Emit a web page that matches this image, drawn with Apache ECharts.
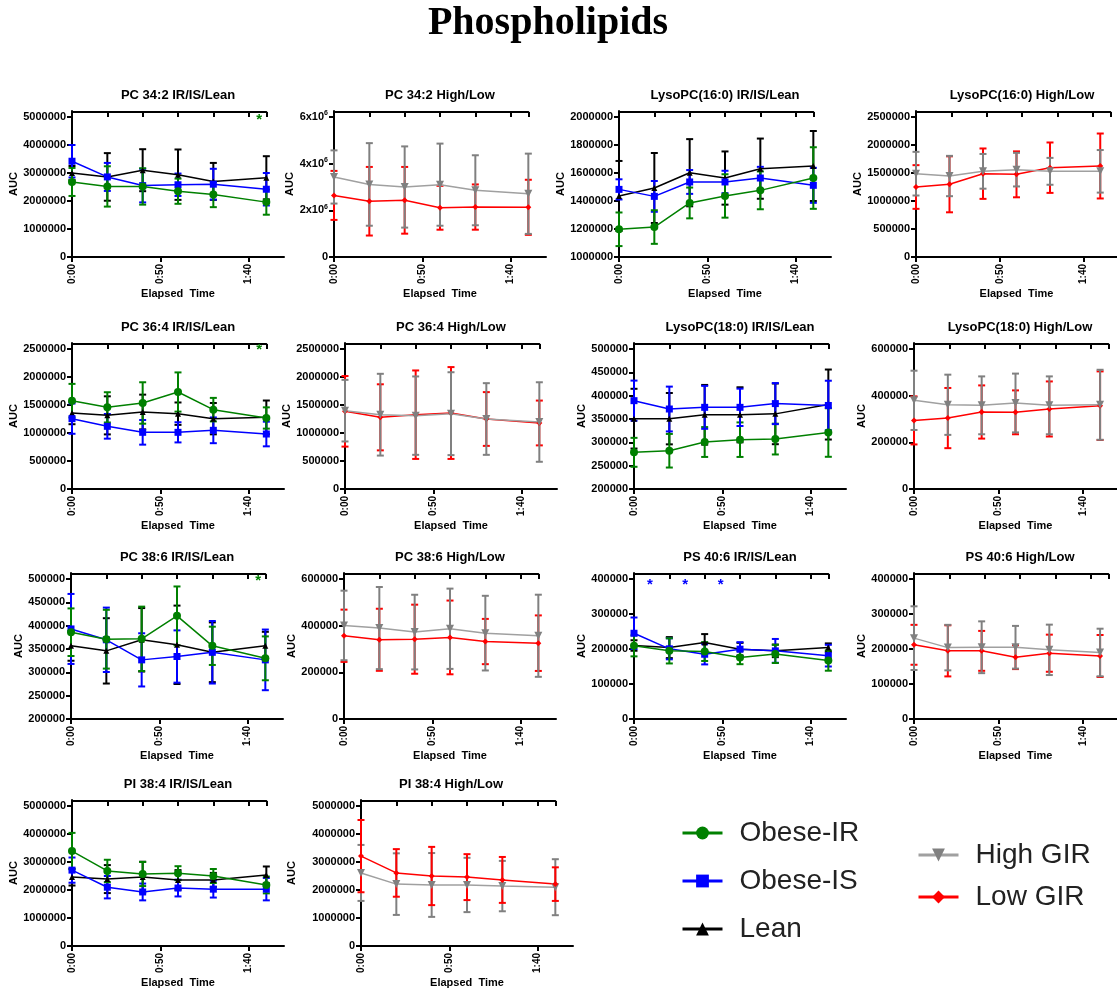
<!DOCTYPE html>
<html><head><meta charset="utf-8">
<script src="https://cdn.jsdelivr.net/npm/echarts@6/dist/echarts.min.js"></script>
<style>html,body{margin:0;padding:0;background:#fff}#c{width:1117px;height:994px}</style>
</head><body><div id="c"></div>
<script>
// ---------- DATA ----------
const times = [0, 20, 40, 60, 80, 110];
const xTickValues = [0, 50, 100];
const xTickLabels = ['0:00', '0:50', '1:40'];

// y tick sets
const ticks_0_5M = [0, 1000000, 2000000, 3000000, 4000000, 5000000];
const ticks_0_6M = [0, 2000000, 4000000, 6000000];
const ticks_1M_2M = [1000000, 1200000, 1400000, 1600000, 1800000, 2000000];
const ticks_0_2500k = [0, 500000, 1000000, 1500000, 2000000, 2500000];
const ticks_200k_500k = [200000, 250000, 300000, 350000, 400000, 450000, 500000];
const ticks_0_600k = [0, 200000, 400000, 600000];
const ticks_0_400k = [0, 100000, 200000, 300000, 400000];

// PC 34:2
const pc342_IR = [2680000, 2520000, 2520000, 2350000, 2230000, 1960000];
const pc342_IR_err = [500000, 720000, 650000, 450000, 450000, 450000];
const pc342_IS = [3420000, 2860000, 2550000, 2580000, 2600000, 2420000];
const pc342_IS_err = [580000, 500000, 600000, 400000, 550000, 580000];
const pc342_Lean = [3000000, 2860000, 3100000, 2940000, 2700000, 2830000];
const pc342_Lean_err = [250000, 850000, 750000, 900000, 660000, 770000];
const pc342_High = [3430000, 3110000, 3000000, 3100000, 2860000, 2710000];
const pc342_High_err = [1140000, 1770000, 1740000, 1760000, 1500000, 1720000];
const pc342_Low = [2640000, 2390000, 2430000, 2110000, 2140000, 2130000];
const pc342_Low_err = [1050000, 1470000, 1430000, 940000, 970000, 1180000];
const pc342_stars = [[106, 5020000]];

// LysoPC(16:0)
const lpc160_IR = [1198000, 1214000, 1386000, 1436000, 1476000, 1564000];
const lpc160_IR_err = [120000, 120000, 110000, 155000, 135000, 220000];
const lpc160_IS = [1483000, 1433000, 1536000, 1536000, 1564000, 1512000];
const lpc160_IS_err = [72000, 110000, 85000, 80000, 80000, 125000];
const lpc160_Lean = [1436000, 1493000, 1602000, 1564000, 1631000, 1650000];
const lpc160_Lean_err = [250000, 250000, 240000, 190000, 215000, 250000];
const lpc160_High = [1488000, 1446000, 1530000, 1560000, 1530000, 1530000];
const lpc160_High_err = [390000, 360000, 310000, 300000, 240000, 380000];
const lpc160_Low = [1250000, 1298000, 1488000, 1476000, 1595000, 1625000];
const lpc160_Low_err = [390000, 500000, 450000, 410000, 450000, 580000];

// PC 36:4
const pc364_IR = [1577000, 1458000, 1536000, 1732000, 1417000, 1268000];
const pc364_IR_err = [300000, 270000, 370000, 350000, 210000, 190000];
const pc364_IS = [1256000, 1119000, 1012000, 1012000, 1048000, 982000];
const pc364_IS_err = [270000, 220000, 220000, 180000, 230000, 220000];
const pc364_Lean = [1357000, 1315000, 1375000, 1345000, 1256000, 1280000];
const pc364_Lean_err = [200000, 340000, 310000, 200000, 280000, 300000];
const pc364_High = [1399000, 1327000, 1310000, 1345000, 1250000, 1196000];
const pc364_High_err = [550000, 730000, 700000, 740000, 640000, 710000];
const pc364_Low = [1387000, 1280000, 1327000, 1357000, 1250000, 1179000];
const pc364_Low_err = [630000, 590000, 790000, 820000, 480000, 400000];
const pc364_stars = [[106, 2530000]];

// LysoPC(18:0)
const lpc180_IR = [278600, 282000, 300700, 305700, 307000, 321000];
const lpc180_IR_err = [31000, 36000, 32000, 37000, 33000, 52000];
const lpc180_IS = [389300, 371400, 375000, 375000, 383000, 379000];
const lpc180_IS_err = [43000, 48000, 46000, 40000, 44000, 53000];
const lpc180_Lean = [350700, 350700, 359000, 359000, 361000, 381000];
const lpc180_Lean_err = [64000, 55000, 64000, 59000, 65000, 75000];
const lpc180_High = [380000, 361000, 358600, 368600, 358600, 361000];
const lpc180_High_err = [127000, 129000, 124000, 126000, 124000, 150000];
const lpc180_Low = [294000, 304000, 330000, 328600, 343000, 357000];
const lpc180_Low_err = [103000, 129000, 114000, 94000, 118000, 147000];

// PC 38:6
const pc386_IR = [386000, 371000, 371800, 421000, 356800, 330000];
const pc386_IR_err = [51000, 63000, 69000, 63000, 41000, 47000];
const pc386_IS = [393000, 369700, 326700, 333900, 343000, 326700];
const pc386_IS_err = [75000, 69000, 57000, 56000, 67000, 65000];
const pc386_Lean = [356800, 346000, 369700, 359000, 343000, 356800];
const pc386_Lean_err = [32000, 70000, 68000, 84000, 64000, 30000];
const pc386_High = [401000, 389700, 372500, 386800, 368000, 356700];
const pc386_High_err = [149000, 176000, 160000, 172000, 160000, 176000];
const pc386_Low = [356700, 339500, 342000, 349600, 332000, 325000];
const pc386_Low_err = [112000, 133000, 148000, 158000, 97000, 119000];
const pc386_stars = [[106, 503000]];

// PS 40:6
const ps406_IR = [209000, 194700, 192800, 175600, 186000, 167000];
const ps406_IR_err = [30000, 36000, 27000, 19000, 26000, 29000];
const ps406_IS = [245000, 200500, 185000, 199500, 194700, 181000];
const ps406_IS_err = [45000, 30000, 29000, 20000, 34000, 31000];
const ps406_Lean = [210000, 204000, 218600, 199500, 194700, 204000];
const ps406_Lean_err = [15000, 30000, 24000, 18000, 18000, 12000];
const ps406_High = [231000, 204000, 205000, 205000, 197600, 190000];
const ps406_High_err = [91000, 65000, 74000, 61000, 72000, 68000];
const ps406_Low = [212000, 194700, 194700, 176600, 188000, 180000];
const ps406_Low_err = [57000, 73000, 57000, 34000, 53000, 60000];
const ps406_stars = [[9, 392000], [29, 392000], [49, 392000]];

// PI 38:4
const pi384_IR = [3390000, 2680000, 2570000, 2600000, 2500000, 2180000];
const pi384_IR_err = [650000, 400000, 430000, 250000, 250000, 300000];
const pi384_IS = [2710000, 2100000, 1930000, 2070000, 2030000, 2030000];
const pi384_IS_err = [450000, 400000, 300000, 300000, 300000, 400000];
const pi384_Lean = [2460000, 2390000, 2460000, 2360000, 2360000, 2540000];
const pi384_Lean_err = [300000, 500000, 550000, 350000, 250000, 300000];
const pi384_High = [2610000, 2210000, 2180000, 2180000, 2140000, 2100000];
const pi384_High_err = [1000000, 1100000, 1140000, 970000, 900000, 1000000];
const pi384_Low = [3210000, 2610000, 2500000, 2460000, 2360000, 2210000];
const pi384_Low_err = [1290000, 850000, 1040000, 820000, 820000, 600000];

// ---------- PANELS ----------
const panels = [
  {title: 'PC 34:2 IR/IS/Lean', ticks: ticks_0_5M, groups: [['Lean', pc342_Lean, pc342_Lean_err], ['Obese-IS', pc342_IS, pc342_IS_err], ['Obese-IR', pc342_IR, pc342_IR_err]], stars: pc342_stars, starColor: '#008000'},
  {title: 'PC 34:2 High/Low', ticks: ticks_0_6M, sci: true, groups: [['Low GIR', pc342_Low, pc342_Low_err], ['High GIR', pc342_High, pc342_High_err]]},
  {title: 'LysoPC(16:0) IR/IS/Lean', ticks: ticks_1M_2M, groups: [['Lean', lpc160_Lean, lpc160_Lean_err], ['Obese-IS', lpc160_IS, lpc160_IS_err], ['Obese-IR', lpc160_IR, lpc160_IR_err]]},
  {title: 'LysoPC(16:0) High/Low', ticks: ticks_0_2500k, groups: [['Low GIR', lpc160_Low, lpc160_Low_err], ['High GIR', lpc160_High, lpc160_High_err]]},
  {title: 'PC 36:4 IR/IS/Lean', ticks: ticks_0_2500k, groups: [['Lean', pc364_Lean, pc364_Lean_err], ['Obese-IS', pc364_IS, pc364_IS_err], ['Obese-IR', pc364_IR, pc364_IR_err]], stars: pc364_stars, starColor: '#008000'},
  {title: 'PC 36:4 High/Low', ticks: ticks_0_2500k, groups: [['Low GIR', pc364_Low, pc364_Low_err], ['High GIR', pc364_High, pc364_High_err]]},
  {title: 'LysoPC(18:0) IR/IS/Lean', ticks: ticks_200k_500k, groups: [['Lean', lpc180_Lean, lpc180_Lean_err], ['Obese-IR', lpc180_IR, lpc180_IR_err], ['Obese-IS', lpc180_IS, lpc180_IS_err]]},
  {title: 'LysoPC(18:0) High/Low', ticks: ticks_0_600k, groups: [['Low GIR', lpc180_Low, lpc180_Low_err], ['High GIR', lpc180_High, lpc180_High_err]]},
  {title: 'PC 38:6 IR/IS/Lean', ticks: ticks_200k_500k, groups: [['Lean', pc386_Lean, pc386_Lean_err], ['Obese-IS', pc386_IS, pc386_IS_err], ['Obese-IR', pc386_IR, pc386_IR_err]], stars: pc386_stars, starColor: '#008000'},
  {title: 'PC 38:6 High/Low', ticks: ticks_0_600k, groups: [['Low GIR', pc386_Low, pc386_Low_err], ['High GIR', pc386_High, pc386_High_err]]},
  {title: 'PS 40:6 IR/IS/Lean', ticks: ticks_0_400k, groups: [['Lean', ps406_Lean, ps406_Lean_err], ['Obese-IS', ps406_IS, ps406_IS_err], ['Obese-IR', ps406_IR, ps406_IR_err]], stars: ps406_stars, starColor: '#0000ff'},
  {title: 'PS 40:6 High/Low', ticks: ticks_0_400k, groups: [['Low GIR', ps406_Low, ps406_Low_err], ['High GIR', ps406_High, ps406_High_err]]},
  {title: 'PI 38:4 IR/IS/Lean', ticks: ticks_0_5M, groups: [['Lean', pi384_Lean, pi384_Lean_err], ['Obese-IS', pi384_IS, pi384_IS_err], ['Obese-IR', pi384_IR, pi384_IR_err]]},
  {title: 'PI 38:4 High/Low', ticks: ticks_0_5M, groups: [['High GIR', pi384_High, pi384_High_err], ['Low GIR', pi384_Low, pi384_Low_err]]}
];

// ---------- LAYOUT / STYLE ----------
const ROW_TICK_TOP = [117, 349, 579, 806];
const layout = [ // left, row, nameGap, titleX
  [72, 0, 50], [334, 0, 38], [619, 0, 46], [916, 0, 50],
  [72, 1, 50], [345, 1, 49], [634, 1, 44], [914, 1, 43],
  [71, 2, 44], [344, 2, 42], [634, 2, 44], [914, 2, 43],
  [72, 3, 49], [361, 3, 64, 451]
];
const styles = {
  'Obese-IR': {color: '#008000', line: '#008000', symbol: 'circle', size: 8},
  'Obese-IS': {color: '#0000ff', line: '#0000ff', symbol: 'rect', size: 7},
  'Lean': {color: '#000000', line: '#000000', symbol: 'triangle', size: 6},
  'High GIR': {color: '#808080', line: '#a0a0a0', symbol: 'path://M0,0L10,0L5,9Z', size: 8},
  'Low GIR': {color: '#ff0000', line: '#ff0000', symbol: 'diamond', size: 6}
};
const SANS = 'Liberation Sans, Arial, sans-serif';

function errRender(color) {
  return function (params, api) {
    const x = api.value(0), m = api.value(1), e = api.value(2);
    const hi = api.coord([x, m + e]), lo = api.coord([x, m - e]);
    const w = 3.5;
    const st = {stroke: color, lineWidth: 2};
    return {type: 'group', children: [
      {type: 'line', shape: {x1: hi[0], y1: hi[1], x2: lo[0], y2: lo[1]}, style: st},
      {type: 'line', shape: {x1: hi[0] - w, y1: hi[1], x2: hi[0] + w, y2: hi[1]}, style: st},
      {type: 'line', shape: {x1: lo[0] - w, y1: lo[1], x2: lo[0] + w, y2: lo[1]}, style: st}
    ]};
  };
}
function starRender(color) {
  return function (params, api) {
    const p = api.coord([api.value(0), api.value(1)]);
    return {type: 'text', style: {text: '*', x: p[0], y: p[1] + 3, textAlign: 'center', textVerticalAlign: 'middle',
      fill: color, font: 'bold 15px ' + SANS}};
  };
}

const legendText = {fontFamily: SANS, fontSize: 28, lineHeight: 28, color: '#222', padding: [0, 0, 0, 12]};
const option = {
  animation: false,
  backgroundColor: '#ffffff',
  title: [{text: 'Phospholipids', left: 548, top: 2, textAlign: 'center', padding: 0,
    textStyle: {fontFamily: 'Liberation Serif, Times New Roman, serif', fontWeight: 'bold', fontSize: 40, lineHeight: 44, color: '#000'}}],
  grid: [], xAxis: [], yAxis: [], series: [],
  legend: [
    {data: ['Obese-IR', 'Obese-IS', 'Lean'], orient: 'vertical', left: 676, top: 814, itemWidth: 40, itemHeight: 16, itemGap: 20,
      selectedMode: false, lineStyle: {width: 3}, textStyle: legendText},
    {data: ['High GIR', 'Low GIR'], orient: 'vertical', left: 912, top: 836, itemWidth: 40, itemHeight: 16, itemGap: 14,
      selectedMode: false, lineStyle: {width: 3}, textStyle: legendText}
  ]
};

panels.forEach((p, i) => {
  const [left, row, nameGap, titleX] = layout[i];
  const T = ROW_TICK_TOP[row];
  const gTop = T - 6, gH = 146, gW = 212;
  const gi = option.grid.length;
  option.grid.push({left: left, top: gTop, width: gW, height: gH});
  option.grid.push({left: left, top: gTop, width: gW * 110 / 120, height: 1});
  option.title.push({text: p.title, left: titleX !== undefined ? titleX : left + gW / 2, top: gTop - 24, textAlign: 'center', padding: 0,
    textStyle: {fontFamily: SANS, fontWeight: 'bold', fontSize: 13, lineHeight: 16, color: '#000'}});

  const t0 = p.ticks[0], t1 = p.ticks[p.ticks.length - 1];
  const yFmt = p.sci
    ? (v) => (v === 0 ? '0' : (v / 1000000) + 'x10{s|6}')
    : (v) => String(v);
  // main x axis
  option.xAxis.push({type: 'value', gridIndex: gi, min: 0, max: 120, position: 'bottom',
    name: 'Elapsed  Time', nameLocation: 'middle', nameGap: 31,
    nameTextStyle: {fontFamily: SANS, fontWeight: 'bold', fontSize: 11, color: '#000'},
    axisLine: {show: true, lineStyle: {color: '#000', width: 2}},
    axisTick: {show: true, customValues: xTickValues, length: 5, lineStyle: {color: '#000', width: 2}},
    axisLabel: {customValues: xTickValues, rotate: 90, margin: 7, fontFamily: SANS, fontWeight: 'bold', fontSize: 10, color: '#000',
      formatter: (v) => { const k = xTickValues.indexOf(v); return k >= 0 ? xTickLabels[k] : ''; }},
    splitLine: {show: false}});
  // top tick line
  option.xAxis.push({type: 'value', gridIndex: gi + 1, min: 0, max: 110, interval: 20, position: 'top',
    axisLine: {show: true, lineStyle: {color: '#000', width: 2}},
    axisTick: {show: true, inside: true, length: 5, lineStyle: {color: '#000', width: 2}},
    axisLabel: {show: false}, splitLine: {show: false}});
  // main y axis
  option.yAxis.push({type: 'value', gridIndex: gi, min: t0, max: t0 + (t1 - t0) * 146 / 140,
    name: 'AUC', nameLocation: 'middle', nameGap: nameGap,
    nameTextStyle: {fontFamily: SANS, fontWeight: 'bold', fontSize: 11, color: '#000'},
    axisLine: {show: true, lineStyle: {color: '#000', width: 2}},
    axisTick: {show: true, customValues: p.ticks, length: 5, lineStyle: {color: '#000', width: 2}},
    axisLabel: {customValues: p.ticks, margin: 6, fontFamily: SANS, fontWeight: 'bold', fontSize: 11, color: '#000',
      formatter: yFmt, rich: {s: {fontFamily: SANS, fontWeight: 'bold', fontSize: 7, color: '#000', verticalAlign: 'top', lineHeight: 14}}},
    splitLine: {show: false}});
  option.yAxis.push({type: 'value', gridIndex: gi + 1, show: false, min: 0, max: 1});

  p.groups.forEach(([name, mean, err]) => {
    const st = styles[name];
    option.series.push({type: 'custom', xAxisIndex: gi, yAxisIndex: gi, renderItem: errRender(st.color),
      encode: {x: 0, y: 1}, data: times.map((t, k) => [t, mean[k], err[k]]), z: 2, silent: true});
    option.series.push({type: 'line', name: name, xAxisIndex: gi, yAxisIndex: gi,
      data: times.map((t, k) => [t, mean[k]]), symbol: st.symbol, symbolSize: st.size, showSymbol: true,
      lineStyle: {color: st.line, width: 1.5}, itemStyle: {color: st.color}, z: 3, silent: true});
  });
  if (p.stars) {
    option.series.push({type: 'custom', xAxisIndex: gi, yAxisIndex: gi, renderItem: starRender(p.starColor),
      encode: {x: 0, y: 1}, data: p.stars, z: 4, silent: true});
  }
});

const chart = echarts.init(document.getElementById('c'), null, {renderer: 'canvas'});
chart.setOption(option);
</script>
</body></html>
